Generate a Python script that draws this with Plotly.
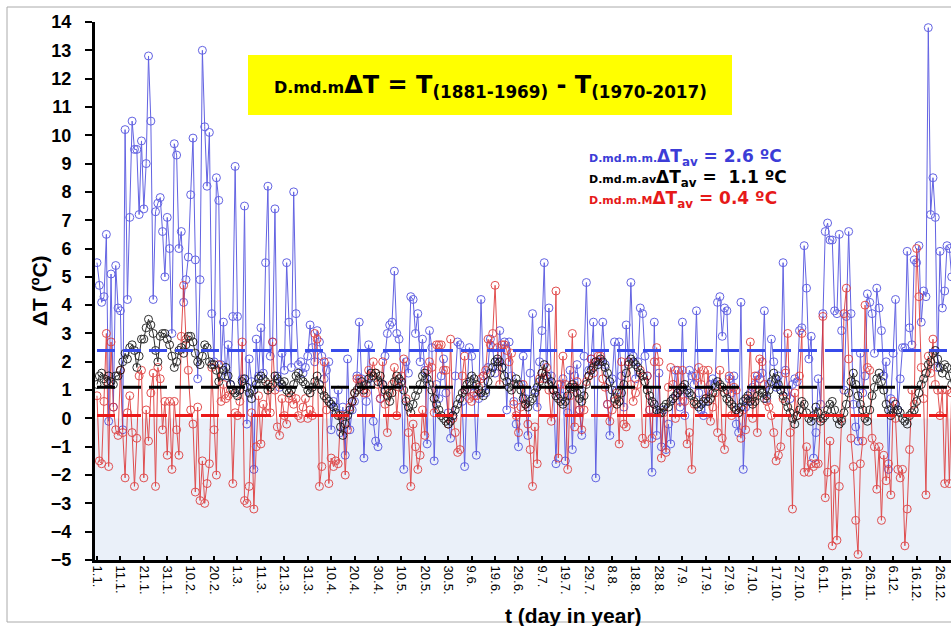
import plotly.graph_objects as go

days = list(range(1, 367))

blue_max = [
    5.5, 4.7, 4.1, 4.3, 6.5, -0.1, 5.1, 0.4, 5.4, 3.9,
    3.8, -0.4, 10.2, 4.2, 7.1, 10.5, 9.5, 9.5, 7.2, 9.8,
    7.4, 9.0, 12.8, 10.5, 4.2, 7.3, 7.6, 7.8, 6.6, 5.0,
    7.1, 6.0, 3.0, 9.7, 9.3, 6.0, 6.6, 4.1, 4.9, 5.7,
    7.9, 9.9, 5.6, 1.4, 4.9, 13.0, 10.3, 8.2, 10.1, 3.7,
    2.0, 8.5, 7.7, 1.9, 3.4, 1.5, 2.6, 1.2, 3.6, 8.9,
    3.6, 1.0, 1.4, 7.5, -0.2, 2.1, 1.3, -1.8, 2.8, 1.5,
    3.2, 1.6, 5.5, 8.2, 2.2, 2.7, 7.4, 1.5, 1.1, 2.3,
    1.7, 5.5, 3.4, 1.8, 8.0, 3.7, 1.9, 2.0, 1.6, 1.8,
    2.2, 3.3, 2.5, 2.0, 3.1, 2.7, 2.2, 1.4, 1.7, 2.0,
    -0.4, 0.6, 0.4, 1.0, -0.5, 0.4, -1.3, 2.1, -0.4, 0.3,
    0.6, 1.5, 3.4, 1.4, -1.4, 0.6, 2.6, 1.2, -0.1, -0.8,
    -1.0, 0.7, 1.2, 2.2, 3.0, 3.3, 3.4, 5.2, 3.0, 2.8,
    1.2, -1.8, 2.0, 1.6, 4.3, 4.2, 3.0, 3.7, 2.0, 2.8,
    1.7, -0.9, 3.1, 2.5, -1.5, 1.2, 0.7, 1.5, 2.1, 0.9,
    0.2, -0.7, 0.1, 1.5, 2.7, 2.6, 0.6, -1.7, 1.0, 2.5,
    2.2, 0.9, -1.3, 0.7, 4.2, 1.5, 0.9, 1.8, 2.8, 2.5,
    1.6, 2.0, 3.1, 1.8, 2.7, 0.3, 2.7, 1.5, 0.6, -0.2,
    -1.0, 1.2, 2.2, 0.7, -0.6, 1.6, 3.7, 1.0, 0.4, 2.0,
    3.1, 5.5, 1.4, 3.9, 1.5, 1.0, -1.6, 1.2, 0.8, 1.4,
    -1.5, 0.2, 1.7, -1.1, 1.5, 1.9, 0.3, -0.6, 2.2, 4.8,
    1.7, 2.1, 3.4, -2.1, 2.0, 2.0, 3.4, 1.9, 0.5, -0.6,
    1.4, 2.7, 1.0, 2.7, 1.5, 0.4, 3.3, 2.0, 4.8, 2.2,
    1.4, 2.0, 3.9, 3.7, 2.2, 1.5, 0.3, -1.9, 3.4, -0.6,
    1.6, -1.0, 0.3, -1.1, -0.2, -0.9, 0.7, 1.7, 0.9, 0.4,
    3.4, 0.1, 0.9, 1.7, 1.5, 1.2, 3.8, 0.9, 0.3, 0.1,
    0.6, 1.0, 1.2, 1.4, 1.2, 4.1, 4.3, 2.9, 3.9, 3.8,
    1.4, 0.9, 1.5, -0.2, -0.5, 4.1, -1.8, 0.4, 0.6, 0.9,
    1.1, 1.2, 1.5, 1.4, 1.6, 3.8, 0.7, 1.2, 2.8, 2.0,
    1.1, 1.5, 1.0, 5.5, 1.7, 1.0, 0.7, 1.2, 1.4, 1.3,
    3.1, 3.2, 6.1, 4.6, 2.1, 2.9, -1.4, -0.5, 1.4, 0.5,
    3.7, 6.6, 6.9, 6.3, 6.3, 3.8, 3.7, 6.5, 3.1, 1.0,
    3.6, 6.6, 3.7, 0.5, -0.3, -0.8, 2.3, 0.9, 1.5, 4.4,
    4.1, 3.7, 2.3, 4.6, 3.9, 3.1, 1.5, 2.0, -1.8, 0.7,
    2.3, 4.2, 0.3, 1.4, 2.5, 2.5, 5.9, 3.2, 2.6, 5.6,
    5.5, 6.1, 3.4, 4.5, 4.3, 13.8, 7.2, 8.5, 7.1, 1.8,
    5.9, 3.9, 4.5, 6.1, 6.0, 5.0,
]

red_min = [
    0.8, -1.5, -1.6, 0.6, 3.0, -1.7, 2.7, 0.4, -0.4, -0.6,
    1.7, -0.5, -2.1, 0.2, 0.8, -0.5, -2.4, -0.7, 1.5, 1.7,
    -2.1, 0.3, -0.8, 0.9, 1.6, -2.4, 1.8, 1.4, -0.4, 0.6,
    -1.3, 0.6, -1.8, 0.6, -0.4, -1.3, 2.9, 4.7, 2.8, 1.7,
    0.3, -0.2, -2.6, 0.4, -2.9, -1.5, -3.0, -2.3, -1.6, 1.8,
    -0.4, -2.0, 1.9, 0.6, 1.2, 0.7, 0.8, 1.0, -2.3, 0.2,
    0.1, 0.6, 2.7, -2.9, -3.0, -2.4, 0.2, -3.2, -1.0, 0.8,
    -0.9, 0.5, 0.2, 1.2, 0.2, 2.7, 1.0, -0.3, -0.6, 0.7,
    0.1, -0.2, 0.7, 0.8, 0.5, 0.7, 0.1, 0.0, 0.4, 0.7,
    0.0, 0.3, 0.1, 3.0, 2.8, -2.4, -1.7, 2.0, 0.3, -2.3,
    -1.4, -1.7, -1.5, -1.6, 0.1, 0.1, -2.0, -0.4, 0.4, 0.6,
    0.9, 1.4, 1.4, 1.2, 0.9, 0.9, 1.7, 1.5, 2.0, 1.6,
    1.2, 0.7, 2.0, 0.5, -0.5, 0.9, 1.2, 1.8, 0.1, 1.1,
    1.5, 2.1, 0.7, -0.5, -2.4, -0.2, -1.0, -1.8, -1.3, 0.3,
    -0.6, 1.7, 2.0, 1.8, 0.2, 2.6, 2.6, 2.6, 1.7, 1.7,
    -0.2, 2.8, 0.0, -0.5, -1.2, -1.1, 1.5, 2.2, 1.0, 0.7,
    0.6, 0.8, 0.8, 1.1, 1.4, 1.5, 1.7, 2.8, 2.6, 3.0,
    4.7, 2.5, 1.2, 2.6, 2.6, 2.4, 2.0, 2.3, 0.5, 0.1,
    -0.5, 0.4, 1.2, 0.5, -0.2, -1.1, -2.4, -0.3, -1.6, 1.4,
    1.6, 1.4, 1.8, 1.0, -0.1, 1.0, 4.5, -1.4, 1.2, 2.2,
    1.2, -1.8, 0.8, 3.0, -0.3, 1.3, 0.3, -0.4, 0.3, 1.3,
    1.5, 2.1, 1.6, 2.0, 2.2, 2.2, 1.4, 1.1, 0.5, -0.1,
    0.3, 0.6, 0.9, -0.9, 2.0, -0.2, -0.3, 2.0, 1.2, 0.6,
    0.9, 1.2, 1.7, -0.7, -0.9, 1.5, 0.3, -0.7, 2.0, 2.5,
    2.0, -1.4, 0.2, -1.2, 1.1, 1.8, 1.2, 0.0, 1.7, 0.6,
    1.7, 0.6, -0.9, -0.5, -1.8, 0.5, 1.5, 1.8, 1.2, 1.7,
    0.7, 1.7, -0.1, 0.4, 0.9, -0.5, 1.7, -0.7, -1.1, 1.0,
    1.5, 0.1, 1.1, 1.0, 0.2, -0.7, 0.3, -0.4, 0.7, 2.7,
    0.0, 1.5, -0.5, 2.1, 2.0, 1.2, 0.6, 0.4, 0.1, -0.5,
    -1.5, -1.3, -1.0, 0.7, 1.6, 3.0, -0.5, -3.2, 0.9, 0.1,
    1.5, 3.0, -1.9, -1.0, -1.9, -1.6, -1.7, -1.6, -1.6, 0.0,
    3.6, -2.8, -1.9, -0.8, -4.5, -1.8, -4.3, -2.4, 0.0, 3.7,
    4.6, 2.1, -0.7, -1.7, -3.6, -4.8, -1.6, -0.8, 4.0, 1.8,
    1.7, -0.7, -1.0, -2.5, -1.0, -3.6, -1.3, -2.2, -1.6, -2.7,
    0.6, 0.0, -1.8, -2.1, -1.8, -4.5, -3.2, -1.1, 1.0, 0.5,
    6.0, 4.3, 1.8, 0.7, -2.7, 2.2, 1.6, 2.8, 1.2, 1.0,
    0.1, 1.0, -2.3, 1.0, -2.3, 0.9,
]

black_avg = [
    1.2, 1.5, 1.6, 1.4, 1.3, 1.5, 1.3, 1.2, 1.5, 1.5,
    1.7, 2.0, 2.3, 2.1, 2.5, 2.6, 2.4, 1.8, 2.2, 2.8,
    2.8, 3.2, 3.5, 3.3, 3.0, 2.4, 2.0, 2.9, 3.0, 3.0,
    2.8, 2.6, 2.2, 1.8, 2.0, 2.4, 2.5, 2.3, 2.6, 2.9,
    2.9, 2.7, 2.3, 2.0, 1.9, 2.2, 2.6, 2.5, 2.0, 1.9,
    1.9, 1.7, 1.3, 1.5, 1.7, 1.8, 1.5, 1.2, 1.0, 0.9,
    0.8, 1.0, 1.3, 1.4, 1.1, 0.9, 0.7, 1.0, 1.2, 1.4,
    1.5, 1.4, 1.3, 1.0, 1.1, 1.2, 1.5, 1.4, 1.3, 1.2,
    1.3, 1.0, 0.9, 1.0, 1.2, 1.5, 1.6, 1.4, 1.3, 1.2,
    1.0, 0.9, 1.1, 1.3, 1.5, 1.2, 1.0, 0.8, 0.7, 0.6,
    0.5, 0.4, 0.2, 0.1, -0.3, -0.6, -0.2, 0.1, 0.3, 0.6,
    0.9, 1.0, 1.1, 1.3, 1.0, 1.2, 1.4, 1.6, 1.5, 1.6,
    1.3, 1.5, 1.2, 1.0, 0.8, 0.6, 0.9, 1.3, 1.5, 1.4,
    1.3, 1.0, 0.6, 0.4, 0.2, 0.5, 0.8, 1.0, 1.2, 1.5,
    1.6, 1.4, 1.2, 1.0, 0.7, 0.5, 0.3, 0.1, 0.0, -0.1,
    -0.2, -0.1, 0.1, 0.3, 0.5, 0.7, 0.9, 1.0, 1.2, 1.3,
    1.5, 1.4, 1.2, 1.0, 0.9, 0.8, 1.0, 1.3, 1.6, 1.8,
    2.0, 2.1, 2.0, 1.8, 1.5, 1.3, 1.1, 1.0, 1.2, 1.4,
    1.2, 1.0, 0.7, 0.5, 0.4, 0.6, 0.7, 0.9, 1.1, 1.3,
    1.6, 1.9, 1.5, 1.2, 1.3, 1.0, 0.8, 0.7, 0.6, 0.5,
    0.6, 0.8, 1.1, 1.2, 1.1, 0.9, 0.7, 0.6, 0.8, 1.2,
    1.5, 1.7, 1.8, 2.0, 1.9, 2.1, 2.0, 1.8, 1.6, 1.3,
    1.0, 0.7, 0.5, 0.6, 0.9, 1.2, 1.6, 1.9, 2.1, 2.0,
    1.9, 1.8, 1.6, 1.5, 1.3, 1.0, 0.8, 0.6, 0.5, 0.3,
    0.2, 0.2, 0.4, 0.5, 0.4, 0.6, 0.7, 0.8, 0.9, 1.0,
    1.1, 1.2, 1.0, 0.9, 0.8, 0.6, 0.5, 0.4, 0.5, 0.6,
    0.7, 0.6, 0.7, 0.9, 1.1, 1.3, 1.2, 1.1, 0.9, 0.7,
    0.6, 0.5, 0.4, 0.3, 0.2, 0.4, 0.6, 0.7, 0.8, 0.6,
    0.5, 0.6, 0.8, 1.0, 0.9, 0.7, 0.8, 1.0, 1.3, 1.6,
    1.4, 1.2, 1.0, 0.8, 0.6, 0.4, 0.2, 0.0, -0.2, 0.1,
    0.3, 0.6, 0.5, 0.2, 0.0, -0.1, 0.1, 0.4, 0.2, -0.1,
    0.0, 0.1, 0.3, 0.5, 0.6, 0.3, 0.0, -0.2, -0.1, 0.2,
    0.5, 0.9, 1.3, 1.6, 1.2, 0.8, 0.5, 0.3, 0.0, -0.1,
    0.3, 0.8, 1.1, 1.4, 1.6, 1.3, 1.0, 0.5, 0.3, 0.1,
    0.2, 0.5, 0.3, 0.2, 0.0, -0.1, -0.2, 0.1, 0.2, 0.3,
    0.6, 0.9, 1.2, 1.4, 1.6, 1.9, 2.0, 2.3, 2.4, 2.1,
    1.8, 1.6, 1.9, 1.8, 1.5, 1.2,
]

assert len(blue_max) == 366 and len(red_min) == 366 and len(black_avg) == 366

tick_days = list(range(1, 362, 10))
tick_labels = ["1.1.", "11.1.", "21.1.", "31.1.", "10.2.", "20.2.", "1.3.", "11.3.",
               "21.3.", "31.3.", "10.4.", "20.4.", "30.4.", "10.5.", "20.5.", "30.5.",
               "9.6.", "19.6.", "29.6.", "9.7.", "19.7.", "29.7.", "8.8.", "18.8.",
               "28.8.", "7.9.", "17.9.", "27.9.", "7.10.", "17.10.", "27.10.", "6.11.",
               "16.11.", "26.11.", "6.12.", "16.12.", "26.12."]

mean_lines = {"blue": 2.4, "black": 1.1, "red": 0.1}

BLUE = "rgb(72,72,222)"
RED = "rgb(222,50,50)"
BLACK = "rgb(10,10,10)"

fig = go.Figure()

def series(y, color):
    return go.Scatter(
        x=days, y=y, mode="lines+markers",
        line=dict(color=color, width=1),
        marker=dict(symbol="circle-open", size=8, color=color, line=dict(width=1)),
        opacity=0.85, showlegend=False, hoverinfo="skip")

fig.add_trace(series(blue_max, BLUE))
fig.add_trace(series(red_min, RED))
fig.add_trace(series(black_avg, BLACK))

for key, col in [("blue", "rgb(55,75,235)"), ("black", "rgb(0,0,0)"), ("red", "rgb(235,25,25)")]:
    fig.add_trace(go.Scatter(
        x=[days[0], days[-1]], y=[mean_lines[key]] * 2, mode="lines",
        line=dict(color=col, width=3, dash="18px,8px"),
        showlegend=False, hoverinfo="skip"))

# light blue area below zero
fig.add_shape(type="rect", xref="paper", yref="y", x0=0, x1=1, y0=-5, y1=0,
              fillcolor="rgb(234,240,249)", line=dict(width=0), layer="below")

# yellow title box
fig.add_shape(type="rect", xref="paper", yref="paper",
              x0=(248 - 95) / 856, x1=(732 - 95) / 856,
              y0=(560 - 115) / 538, y1=(560 - 55) / 538,
              fillcolor="rgb(255,255,0)", line=dict(width=0), layer="above")

# outer frame (left, top, bottom)
FR = dict(color="rgb(170,170,170)", width=1)
fx0 = (7 - 95) / 856
fy_top = (560 - 7) / 538
fy_bot = (560 - 622) / 538
fig.add_shape(type="line", xref="paper", yref="paper", x0=fx0, x1=fx0, y0=fy_top, y1=fy_bot, line=FR)
fig.add_shape(type="line", xref="paper", yref="paper", x0=fx0, x1=1.05, y0=fy_top, y1=fy_top, line=FR)
fig.add_shape(type="line", xref="paper", yref="paper", x0=fx0, x1=1.05, y0=fy_bot, y1=fy_bot, line=FR)

TFONT = "DejaVu Sans"

fig.add_annotation(
    xref="paper", yref="paper", x=(490 - 95) / 856, y=(560 - 86) / 538,
    xanchor="center", yanchor="middle", showarrow=False,
    text="<b><span style='font-size:16px'>D.md.m</span>ΔT = T<sub>(1881-1969)</sub> - T<sub>(1970-2017)</sub></b>",
    font=dict(family=TFONT, size=24, color="black"))

legend_lines = [
    ("D.md.m.m.", " = 2.6 ºC", "rgb(60,60,215)", 157),
    ("D.md.m.av", " =  1.1 ºC", "black", 178),
    ("D.md.m.M", " = 0.4 ºC", "rgb(230,25,25)", 199),
]
for pre, post, col, ypx in legend_lines:
    fig.add_annotation(
        xref="paper", yref="paper", x=(587 - 95) / 856, y=(560 - ypx) / 538,
        xanchor="left", yanchor="middle", showarrow=False,
        text=f"<b><span style='font-size:11px'>{pre}</span>ΔT<sub>av</sub>{post}</b>",
        font=dict(family=TFONT, size=17, color=col))

fig.add_annotation(
    xref="paper", yref="paper", x=(573 - 95) / 856, y=(560 - 615) / 538,
    xanchor="center", yanchor="middle", showarrow=False,
    text="<b>t (day in year)</b>", font=dict(family="Liberation Sans, Arial", size=21, color="black"))

fig.add_annotation(
    xref="paper", yref="paper", x=(39 - 95) / 856, y=0.5,
    xanchor="center", yanchor="middle", showarrow=False, textangle=-90,
    text="<b>ΔT (ºC)</b>", font=dict(family="Liberation Sans, Arial", size=21, color="black"))

fig.update_layout(
    width=951, height=626,
    margin=dict(l=95, r=0, t=22, b=66),
    paper_bgcolor="white", plot_bgcolor="white",
    xaxis=dict(range=[0.15, 365.7], tickmode="array", tickvals=tick_days, ticktext=tick_labels,
               tickangle=90, tickfont=dict(family="Liberation Sans, Arial", size=13, color="black"),
               showgrid=False, zeroline=False, showline=True, linecolor="black", linewidth=3,
               ticks="inside", ticklen=4, tickwidth=2, tickcolor="black"),
    yaxis=dict(range=[-5, 14], dtick=1, tick0=0,
               tickfont=dict(family="Liberation Sans, Arial", size=18, color="black", weight="bold"),
               showgrid=False, zeroline=False, showline=True, linecolor="black", linewidth=3,
               ticks="outside", ticklen=7, tickwidth=2, tickcolor="black", ticklabelstandoff=10),
)

fig.write_html("out.html")
